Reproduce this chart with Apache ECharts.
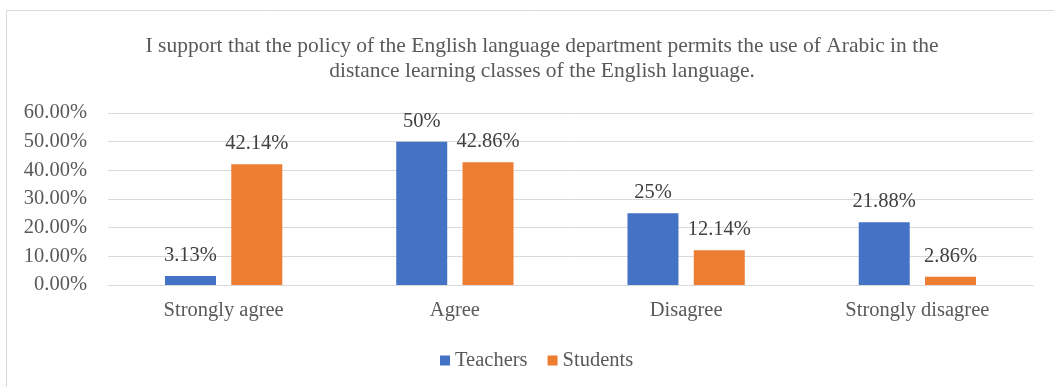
<!DOCTYPE html>
<html>
<head>
<meta charset="utf-8">
<style>
  html, body { margin: 0; padding: 0; background: #fff; }
  #chart { width: 1054px; height: 387px; }
</style>
<script src="https://cdn.jsdelivr.net/npm/echarts@6/dist/echarts.min.js"></script>
</head>
<body>
<div id="chart"></div>
<script>
const categories = ['Strongly agree', 'Agree', 'Disagree', 'Strongly disagree'];
const teachers = [3.13, 50, 25, 21.88];
const students = [42.14, 42.86, 12.14, 2.86];
const teacherLabels = ['3.13%', '50%', '25%', '21.88%'];
const studentLabels = ['42.14%', '42.86%', '12.14%', '2.86%'];
const yTicks = [0, 10, 20, 30, 40, 50, 60];

const serif = '"Liberation Serif", "Times New Roman", serif';
const textSize = 20.5;

const chart = echarts.init(document.getElementById('chart'), null, { renderer: 'canvas' });

const labelOf = (texts) => ({
  show: true,
  position: 'top',
  distance: 10,
  fontFamily: serif,
  fontSize: textSize,
  color: '#404040',
  formatter: (p) => texts[p.dataIndex]
});

chart.setOption({
  animation: false,
  graphic: [{
    type: 'rect',
    shape: { x: 6.5, y: 10.5, width: 1100, height: 420 },
    style: { fill: 'none', stroke: '#d9d9d9', lineWidth: 1 },
    silent: true
  }],
  title: {
    text: 'I support that the policy of the English language department permits the use of Arabic in the\ndistance learning classes of the English language.',
    left: 537,
    textAlign: 'center',
    top: 29,
    textStyle: {
      fontFamily: serif,
      fontSize: 21.5,
      fontWeight: 'normal',
      color: '#595959',
      lineHeight: 25
    }
  },
  legend: {
    bottom: 16,
    left: 440,
    padding: 0,
    itemWidth: 10,
    itemHeight: 10,
    itemGap: 20,
    icon: 'rect',
    textStyle: { fontFamily: serif, fontSize: textSize, color: '#595959' },
    data: ['Teachers', 'Students']
  },
  grid: { left: 108, right: 21, top: 113, bottom: 102 },
  xAxis: {
    type: 'category',
    data: categories,
    axisLine: { lineStyle: { color: '#d9d9d9' } },
    axisTick: { show: false },
    axisLabel: { fontFamily: serif, fontSize: textSize, color: '#595959', margin: 15 }
  },
  yAxis: {
    type: 'value',
    min: yTicks[0],
    max: yTicks[yTicks.length - 1],
    interval: 10,
    axisLine: { show: false },
    axisTick: { show: false },
    splitLine: { lineStyle: { color: '#d9d9d9' } },
    axisLabel: {
      fontFamily: serif, fontSize: textSize, color: '#595959', margin: 21,
      formatter: (v) => v.toFixed(2) + '%'
    }
  },
  series: [
    {
      name: 'Teachers', type: 'bar', data: teachers,
      barWidth: 51, barGap: '30%',
      itemStyle: { color: '#4472C4' },
      label: labelOf(teacherLabels)
    },
    {
      name: 'Students', type: 'bar', data: students,
      barWidth: 51,
      itemStyle: { color: '#ED7D31' },
      label: labelOf(studentLabels)
    }
  ]
});
</script>
</body>
</html>
